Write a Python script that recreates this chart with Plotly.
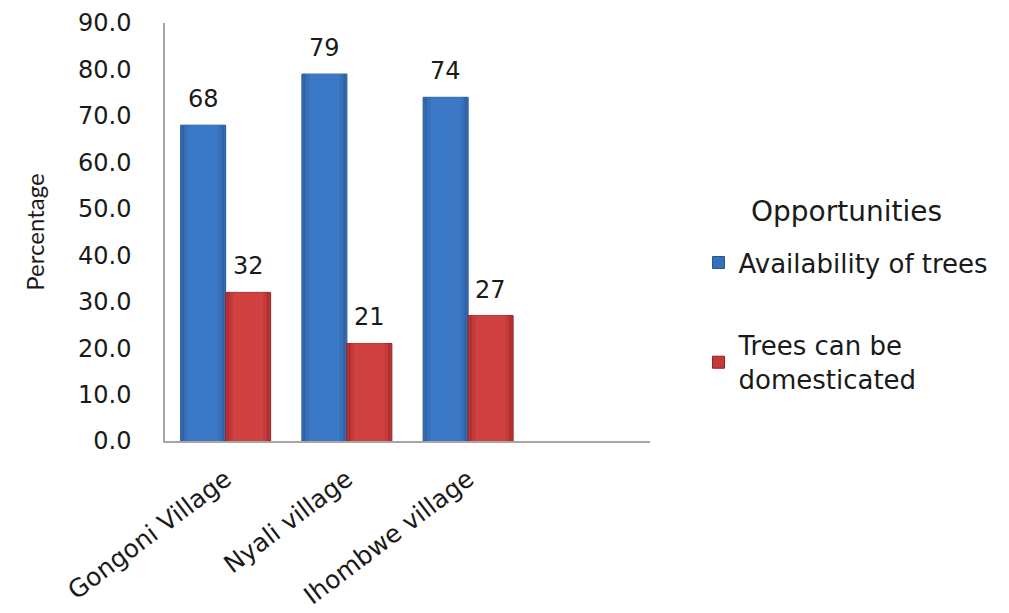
import plotly.graph_objects as go

villages = ["Gongoni Village", "Nyali village", "Ihombwe village"]
availability = [68, 79, 74]
domesticated = [32, 21, 27]
series_names = ["Availability of trees", "Trees can be<br>domesticated"]
legend_title = "Opportunities"
y_ticks = [0, 10, 20, 30, 40, 50, 60, 70, 80, 90]

BAR_W = 0.371
# shaded layers per series: (inset, colour) from the dark outer edge to the bright centre
blue_layers = [(0.0, "#2a5690"), (0.012, "#3063a6"), (0.03, "#3670bb"), (0.06, "#3b79c6")]
red_layers = [(0.0, "#8e2323"), (0.012, "#ad2f2f"), (0.03, "#c43939"), (0.06, "#d04141")]

fig = go.Figure()


def add_series(values, name, base_offset, layers, legend_color):
    for i, (inset, color) in enumerate(layers):
        first = i == 0
        fig.add_trace(go.Bar(
            x=villages, y=values, name=name,
            offset=base_offset + inset, width=BAR_W - 2 * inset,
            marker=dict(color=color if not first else legend_color,
                        line=dict(color=layers[0][1], width=1 if first else 0)),
            showlegend=first, legendgroup=name,
            hoverinfo="skip" if not first else None,
        ))
    # value labels centred above each bar
    for k, v in enumerate(values):
        fig.add_annotation(
            x=k + base_offset + BAR_W / 2, y=v, xref="x", yref="y",
            text=f"{v:.0f}", showarrow=False, yanchor="middle", yshift=26,
            font=dict(family="DejaVu Sans", size=24, color="#1a1a1a"),
        )


add_series(availability, series_names[0], -BAR_W, blue_layers, "#3670bb")
add_series(domesticated, series_names[1], 0.0, red_layers, "#c43939")

fig.add_annotation(
    x=1.405, y=0.548, xref="paper", yref="paper", text=legend_title,
    showarrow=False, xanchor="center", yanchor="middle",
    font=dict(family="DejaVu Sans", size=28, color="#1a1a1a"),
)

fig.update_layout(
    width=1009, height=613,
    margin=dict(l=165, r=359, t=23, b=172),
    barmode="overlay",
    plot_bgcolor="white", paper_bgcolor="white",
    legend=dict(
        font=dict(family="DejaVu Sans", size=26, color="#1a1a1a"),
        x=1.1, xanchor="left", y=0.483, yanchor="top",
        traceorder="grouped", tracegroupgap=46,
        bgcolor="rgba(0,0,0,0)",
    ),
    xaxis=dict(
        type="category", range=[-0.5, 3.5], automargin=False,
        showline=True, linecolor="#a6a6a6", linewidth=1.5,
        ticks="", tickangle=-37, ticklabelstandoff=12,
        tickfont=dict(family="DejaVu Sans", size=25, color="#1a1a1a"),
        showgrid=False, zeroline=False,
    ),
    yaxis=dict(
        range=[0, 90], tickvals=y_ticks, tickformat=".1f", automargin=False,
        showline=True, linecolor="#a6a6a6", linewidth=1.5,
        ticks="", ticklabelstandoff=27,
        tickfont=dict(family="DejaVu Sans", size=24, color="#1a1a1a"),
        showgrid=False, zeroline=False,
        title=dict(text="Percentage", font=dict(family="Lato", size=24, color="#1a1a1a"), standoff=27),
    ),
)

fig.write_html("out.html")
